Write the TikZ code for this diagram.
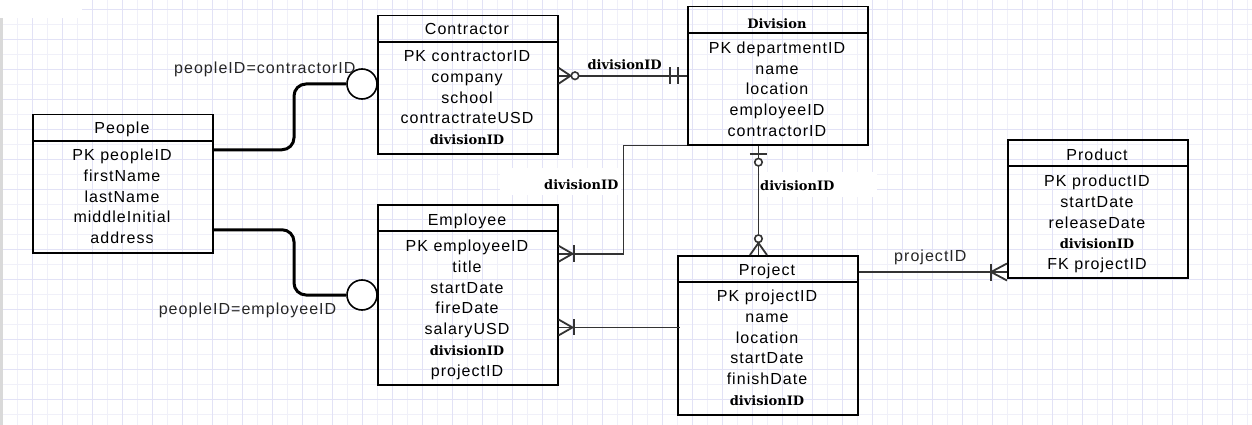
\documentclass[tikz,border=0pt]{standalone}
\usepackage{fontspec}
\setmainfont{Liberation Sans}[LetterSpace=6.5]
\newfontfamily\serifb{DejaVu Serif}
\newcommand\dvf{\fontsize{13}{15}\selectfont\serifb\bfseries}
\definecolor{gridlight}{HTML}{F0F0F9}
\definecolor{griddark}{HTML}{E2E2F6}
\definecolor{connc}{HTML}{333333}
\tikzset{
  ebox/.style={draw=black, line width=1.5pt, minimum width=180pt, anchor=north west, inner sep=0pt},
  hline/.style={draw=black, line width=1.5pt},
  row/.style={anchor=base, inner sep=0pt, font=\fontsize{16}{19}\selectfont, text=black},
  lbl/.style={anchor=base west, inner sep=0pt, font=\fontsize{16}{19}\selectfont, text=black!85},
  dvl/.style={anchor=base west, inner sep=0pt, font=\dvf},
  conn/.style={draw=connc, line width=1.8pt},
  thickconn/.style={draw=black, line width=3pt, rounded corners=12pt},
  bigcirc/.style={circle, draw=black, line width=1.6pt, fill=white, minimum size=30pt, inner sep=0pt},
  smallcirc/.style={circle, draw=connc, line width=1.6pt, fill=white, minimum size=7.5pt, inner sep=0pt},
  gridl/.style={draw=gridlight, line width=1pt},
  gridd/.style={draw=griddark, line width=1pt},
}
\begin{document}
\begin{tikzpicture}[x=1pt,y=-1pt]
\useasboundingbox (0,0) rectangle (1252,425);
% background grid
\fill[white] (0,0) rectangle (1252,425);
\foreach \k in {0,...,83} \draw[gridl] ({2.7+15*\k},0) -- ({2.7+15*\k},425);
\foreach \k in {0,...,27} \draw[gridl] (0,{9.3+15*\k}) -- (1252,{9.3+15*\k});
\foreach \k in {0,...,41} \draw[gridd] ({2.7+30*\k},0) -- ({2.7+30*\k},425);
\foreach \k in {0,...,13} \draw[gridd] (0,{9.3+30*\k}) -- (1252,{9.3+30*\k});
\fill[white] (0,0) rectangle (82,18);
\fill[gray!30] (0,18) rectangle (2.5,425);
\fill[white] (500,168) rectangle (621,195);
\fill[white] (759.5,172) rectangle (877,197);

% ---------- entities ----------
% People
\node[ebox, minimum height=138pt] (people) at (32,114) {};
\draw[hline] ([yshift=-27pt]people.north west) -- ([yshift=-27pt]people.north east);
\node[row] (people-h) at (122,133.3) {People};
\foreach \t [count=\i from 0] in {PK peopleID, firstName, lastName, middleInitial, address}
  \node[row] (people-\i) at (122,{160.7+20.75*\i}) {\t};

% Contractor
\node[ebox, minimum height=138pt] (contractor) at (377,15) {};
\draw[hline] ([yshift=-27pt]contractor.north west) -- ([yshift=-27pt]contractor.north east);
\node[row] (contractor-h) at (467,35) {Contractor};
\foreach \t [count=\i from 0] in {PK contractorID, company, school, contractrateUSD, {\dvf divisionID}}
  \node[row] (contractor-\i) at (467,{61.7+20.75*\i}) {\t};

% Division
\node[ebox, minimum height=138pt] (division) at (687,6) {};
\draw[hline] ([yshift=-27pt]division.north west) -- ([yshift=-27pt]division.north east);
\node[row] (division-h) at (777,28.3) {\dvf Division};
\foreach \t [count=\i from 0] in {PK departmentID, name, location, employeeID, contractorID}
  \node[row] (division-\i) at (777,{53.3+20.75*\i}) {\t};

% Employee
\node[ebox, minimum height=180pt] (employee) at (377,204) {};
\draw[hline] ([yshift=-27pt]employee.north west) -- ([yshift=-27pt]employee.north east);
\node[row] (employee-h) at (467,225) {Employee};
\foreach \t [count=\i from 0] in {PK employeeID, title, startDate, fireDate, salaryUSD, {\dvf divisionID}, projectID}
  \node[row] (employee-\i) at (467,{251.7+20.75*\i}) {\t};

% Project
\node[ebox, minimum height=159pt] (project) at (677,255) {};
\draw[hline] ([yshift=-27pt]project.north west) -- ([yshift=-27pt]project.north east);
\node[row] (project-h) at (767,275) {Project};
\foreach \t [count=\i from 0] in {PK projectID, name, location, startDate, finishDate, {\dvf divisionID}}
  \node[row] (project-\i) at (767,{301.7+20.75*\i}) {\t};

% Product
\node[ebox, minimum height=138pt] (product) at (1007,139) {};
\draw[hline] ([yshift=-27pt]product.north west) -- ([yshift=-27pt]product.north east);
\node[row] (product-h) at (1097,160) {Product};
\foreach \t [count=\i from 0] in {PK productID, startDate, releaseDate, {\dvf divisionID}, FK projectID}
  \node[row] (product-\i) at (1097,{186.7+20.75*\i}) {\t};

% ---------- connectors ----------
% People -- Contractor (thick, circle)
\node[bigcirc] (c1) at (362,84) {};
\coordinate (k1) at (294,84);
\draw[thickconn] ([yshift=34pt]people.east) -| (k1) -- (c1.west);
% People -- Employee
\node[bigcirc] (c2) at (362,295) {};
\coordinate (k2) at (294,295);
\draw[thickconn] ([yshift=-46pt]people.east) -| (k2) -- (c2.west);

% Contractor -- Division
\coordinate (e3) at (contractor.east |- division.west);
\draw[conn] (e3) -- (division.west);
\draw[conn] ([yshift=8pt]e3) -- ([xshift=12pt]e3) -- ([yshift=-8pt]e3);
\node[smallcirc] (o3) at ([xshift=16.5pt]e3) {};
\draw[conn] ([xshift=-17pt,yshift=8.5pt]division.west) -- ([xshift=-17pt,yshift=-8.5pt]division.west);
\draw[conn] ([xshift=-9pt,yshift=8.5pt]division.west) -- ([xshift=-9pt,yshift=-8.5pt]division.west);

% Division -- Employee
\coordinate (e4) at ([yshift=41pt]employee.east);
\draw[conn] (division.south west) -| ([xshift=65pt]e4) -- (e4);
\draw[conn] ([yshift=8pt]e4) -- ([xshift=14pt]e4) -- ([yshift=-8pt]e4);
\draw[conn] ([xshift=15.5pt,yshift=8.3pt]e4) -- ([xshift=15.5pt,yshift=-8.3pt]e4);

% Division -- Project
\coordinate (d5) at ([xshift=-19.3pt]division.south);
\coordinate (p5) at (d5 |- project.north);
\draw[conn] (d5) -- (p5);
\draw[conn] ([xshift=-8.5pt,yshift=-8.7pt]d5) -- ([xshift=8.5pt,yshift=-8.7pt]d5);
\node[smallcirc] (o5a) at ([yshift=-16.7pt]d5) {};
\draw[conn] ([xshift=-8.5pt]p5) -- ([yshift=12pt]p5) -- ([xshift=8.5pt]p5);
\node[smallcirc] (o5b) at ([yshift=16.3pt]p5) {};

% Employee -- Project
\coordinate (e6) at ([yshift=-32.7pt]employee.east);
\draw[conn] (e6) -- (e6 -| project.west) -- ++(3,0);
\draw[conn] ([yshift=8pt]e6) -- ([xshift=14pt]e6) -- ([yshift=-8pt]e6);
\draw[conn] ([xshift=15.5pt,yshift=8pt]e6) -- ([xshift=15.5pt,yshift=-8pt]e6);

% Project -- Product
\coordinate (e7) at ([yshift=-17pt]project.north east);
\coordinate (f7) at (e7 -| product.west);
\draw[conn] (e7) -- (f7);
\draw[conn] ([yshift=8.5pt]f7) -- ([xshift=-16pt]f7) -- ([yshift=-8.5pt]f7);
\draw[conn] ([xshift=-16pt,yshift=8.5pt]f7) -- ([xshift=-16pt,yshift=-8.5pt]f7);

% ---------- labels ----------
\node[lbl] (l1) at (174,74) {peopleID=contractorID};
\node[lbl] (l2) at (158.6,314) {peopleID=employeeID};
\node[dvl] (l3) at (587.3,70) {divisionID};
\node[dvl] (l4) at (544,189) {divisionID};
\node[dvl] (l5) at (760,190) {divisionID};
\node[lbl] (l6) at (894,261.7) {projectID};
\end{tikzpicture}
\end{document}
